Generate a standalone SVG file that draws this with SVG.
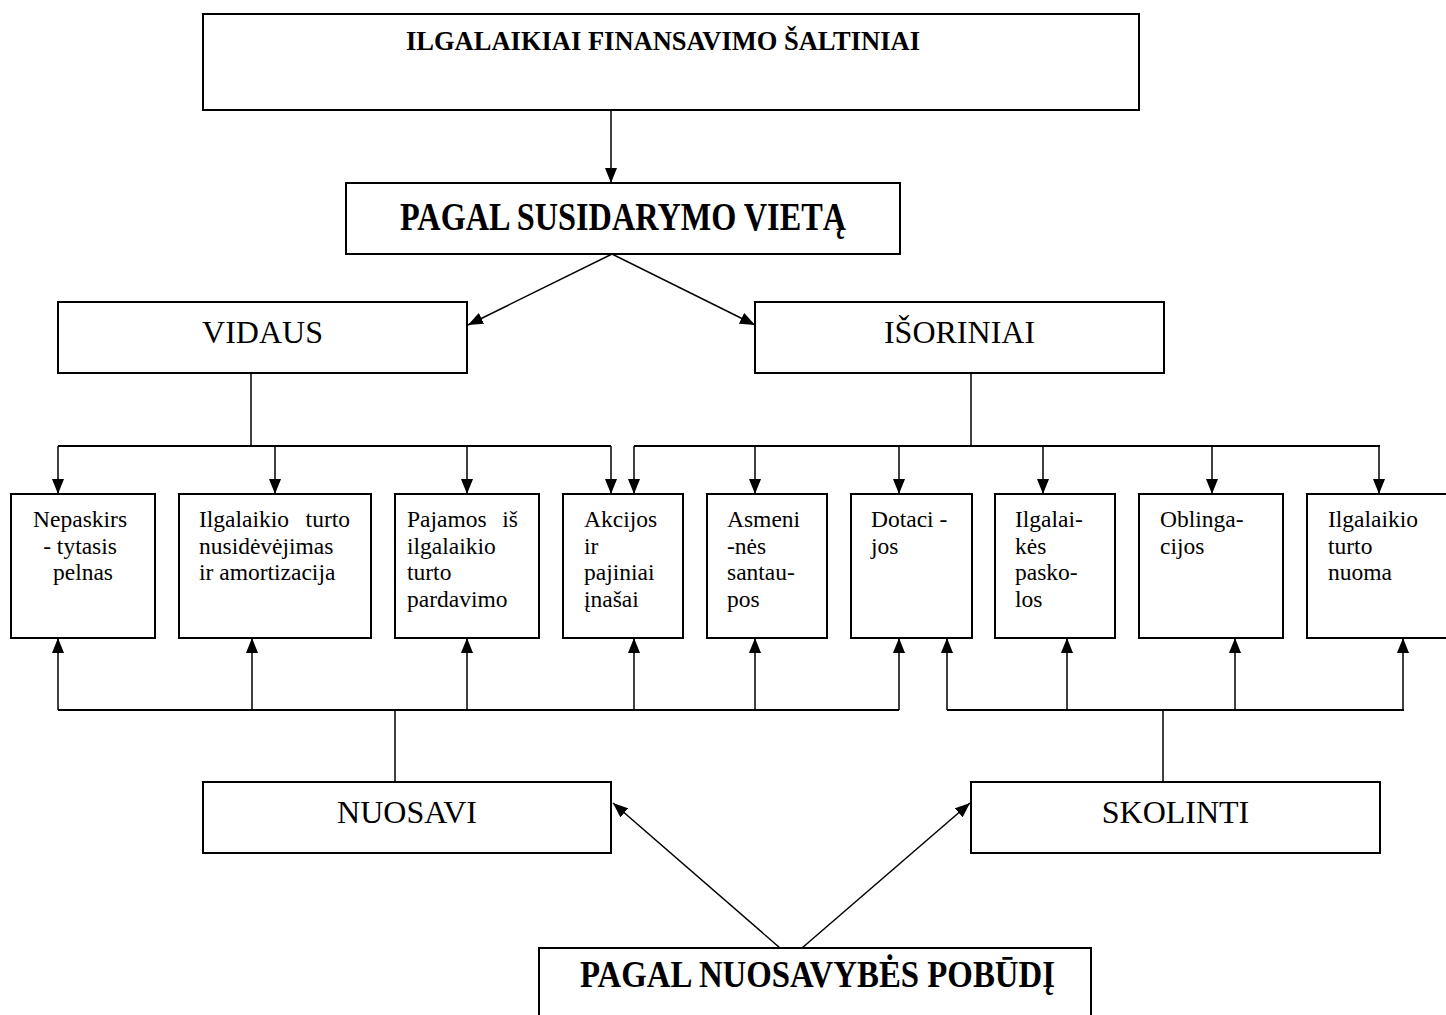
<svg xmlns="http://www.w3.org/2000/svg" width="1446" height="1015" viewBox="0 0 1446 1015">
  <style>
    .box { fill: #ffffff; stroke: #000000; stroke-width: 2; }
    .ln { fill: none; stroke: #000000; stroke-width: 1.5; }
    .bus { fill: none; stroke: #000000; stroke-width: 2.2; }
    .arr { marker-end: url(#tip); }
    .t { font-family: "Liberation Serif", "Times New Roman", serif; fill: #000000; }
    .head { font-size: 26.5px; font-weight: bold; }
    .big { font-size: 40px; font-weight: bold; }
    .mid { font-size: 32px; }
    .sm { font-size: 23.5px; }
  </style>
  <defs>
    <marker id="tip" markerUnits="userSpaceOnUse" markerWidth="15" markerHeight="12" refX="15" refY="6" orient="auto" viewBox="0 0 15 12">
      <path d="M0,0 L15,6 L0,12 Z" fill="#000000"/>
    </marker>
  </defs>

  <rect x="0" y="0" width="1446" height="1015" fill="#ffffff"/>

  <!-- connectors -->
  <g id="connectors">
    <!-- top to classification by place -->
    <line class="ln arr" x1="611" y1="110" x2="611" y2="183"/>
    <!-- split into internal / external -->
    <line class="ln arr" x1="612" y1="254" x2="468" y2="325"/>
    <line class="ln arr" x1="612" y1="254" x2="755" y2="325"/>

    <!-- internal sources bus -->
    <line class="ln" x1="251" y1="373" x2="251" y2="446"/>
    <line class="bus" x1="58" y1="446" x2="611" y2="446"/>
    <line class="ln arr" x1="58" y1="446" x2="58" y2="494"/>
    <line class="ln arr" x1="275" y1="446" x2="275" y2="494"/>
    <line class="ln arr" x1="467" y1="446" x2="467" y2="494"/>
    <line class="ln arr" x1="611" y1="446" x2="611" y2="494"/>

    <!-- external sources bus -->
    <line class="ln" x1="971" y1="373" x2="971" y2="446"/>
    <line class="bus" x1="634" y1="446" x2="1380" y2="446"/>
    <line class="ln arr" x1="634" y1="446" x2="634" y2="494"/>
    <line class="ln arr" x1="755" y1="446" x2="755" y2="494"/>
    <line class="ln arr" x1="899" y1="446" x2="899" y2="494"/>
    <line class="ln arr" x1="1043" y1="446" x2="1043" y2="494"/>
    <line class="ln arr" x1="1212" y1="446" x2="1212" y2="494"/>
    <line class="ln arr" x1="1379" y1="446" x2="1379" y2="494"/>

    <!-- own capital bus -->
    <line class="ln" x1="395" y1="782" x2="395" y2="710"/>
    <line class="bus" x1="58" y1="710" x2="899" y2="710"/>
    <line class="ln arr" x1="58" y1="710" x2="58" y2="638"/>
    <line class="ln arr" x1="252" y1="710" x2="252" y2="638"/>
    <line class="ln arr" x1="467" y1="710" x2="467" y2="638"/>
    <line class="ln arr" x1="634" y1="710" x2="634" y2="638"/>
    <line class="ln arr" x1="755" y1="710" x2="755" y2="638"/>
    <line class="ln arr" x1="899" y1="710" x2="899" y2="638"/>

    <!-- borrowed capital bus -->
    <line class="ln" x1="1163" y1="782" x2="1163" y2="710"/>
    <line class="bus" x1="947" y1="710" x2="1404" y2="710"/>
    <line class="ln arr" x1="947" y1="710" x2="947" y2="638"/>
    <line class="ln arr" x1="1067" y1="710" x2="1067" y2="638"/>
    <line class="ln arr" x1="1235" y1="710" x2="1235" y2="638"/>
    <line class="ln arr" x1="1403" y1="710" x2="1403" y2="638"/>

    <!-- classification by ownership -->
    <line class="ln arr" x1="780" y1="948" x2="613" y2="803"/>
    <line class="ln arr" x1="802" y1="948" x2="970" y2="803"/>
  </g>

  <!-- headline -->
  <g id="n-ilgalaikiai">
    <rect class="box" x="203" y="14" width="936" height="96"/>
    <text class="t head" x="663" y="50" text-anchor="middle">ILGALAIKIAI FINANSAVIMO ŠALTINIAI</text>
  </g>

  <g id="n-pagal-vieta">
    <rect class="box" x="346" y="183" width="554" height="71"/>
    <text class="t big" x="400" y="230" textLength="446" lengthAdjust="spacingAndGlyphs">PAGAL SUSIDARYMO VIETĄ</text>
  </g>

  <g id="n-vidaus">
    <rect class="box" x="58" y="302" width="409" height="71"/>
    <text class="t mid" x="262.5" y="343" text-anchor="middle">VIDAUS</text>
  </g>

  <g id="n-isoriniai">
    <rect class="box" x="755" y="302" width="409" height="71"/>
    <text class="t mid" x="959.5" y="343" text-anchor="middle">IŠORINIAI</text>
  </g>

  <!-- individual sources -->
  <g id="n-nepaskirstytasis">
    <rect class="box" x="11" y="494" width="144" height="144"/>
    <text class="t sm" text-anchor="middle">
      <tspan x="83" y="527">Nepaskirs</tspan>
      <tspan x="83" y="553.5">- tytasis</tspan>
      <tspan x="83" y="580">pelnas</tspan>
    </text>
  </g>

  <g id="n-nusidevejimas">
    <rect class="box" x="179" y="494" width="192" height="144"/>
    <text class="t sm" x="199" y="527">Ilgalaikio</text>
    <text class="t sm" x="350" y="527" text-anchor="end">turto</text>
    <text class="t sm">
      <tspan x="199" y="553.5">nusidėvėjimas</tspan>
      <tspan x="199" y="580">ir amortizacija</tspan>
    </text>
  </g>

  <g id="n-pardavimas">
    <rect class="box" x="395" y="494" width="144" height="144"/>
    <text class="t sm" x="407" y="527">Pajamos</text>
    <text class="t sm" x="518" y="527" text-anchor="end">iš</text>
    <text class="t sm">
      <tspan x="407" y="553.5">ilgalaikio</tspan>
      <tspan x="407" y="580">turto</tspan>
      <tspan x="407" y="606.5">pardavimo</tspan>
    </text>
  </g>

  <g id="n-akcijos">
    <rect class="box" x="563" y="494" width="120" height="144"/>
    <text class="t sm">
      <tspan x="584" y="527">Akcijos</tspan>
      <tspan x="584" y="553.5">ir</tspan>
      <tspan x="584" y="580">pajiniai</tspan>
      <tspan x="584" y="606.5">įnašai</tspan>
    </text>
  </g>

  <g id="n-santaupos">
    <rect class="box" x="707" y="494" width="120" height="144"/>
    <text class="t sm">
      <tspan x="727" y="527">Asmeni</tspan>
      <tspan x="727" y="553.5">-nės</tspan>
      <tspan x="727" y="580">santau-</tspan>
      <tspan x="727" y="606.5">pos</tspan>
    </text>
  </g>

  <g id="n-dotacijos">
    <rect class="box" x="851" y="494" width="121" height="144"/>
    <text class="t sm">
      <tspan x="871" y="527">Dotaci -</tspan>
      <tspan x="871" y="553.5">jos</tspan>
    </text>
  </g>

  <g id="n-paskolos">
    <rect class="box" x="995" y="494" width="120" height="144"/>
    <text class="t sm">
      <tspan x="1015" y="527">Ilgalai-</tspan>
      <tspan x="1015" y="553.5">kės</tspan>
      <tspan x="1015" y="580">pasko-</tspan>
      <tspan x="1015" y="606.5">los</tspan>
    </text>
  </g>

  <g id="n-obligacijos">
    <rect class="box" x="1139" y="494" width="144" height="144"/>
    <text class="t sm">
      <tspan x="1160" y="527">Oblinga-</tspan>
      <tspan x="1160" y="553.5">cijos</tspan>
    </text>
  </g>

  <g id="n-nuoma">
    <rect class="box" x="1307" y="494" width="160" height="144"/>
    <text class="t sm">
      <tspan x="1328" y="527">Ilgalaikio</tspan>
      <tspan x="1328" y="553.5">turto</tspan>
      <tspan x="1328" y="580">nuoma</tspan>
    </text>
  </g>

  <!-- ownership groups -->
  <g id="n-nuosavi">
    <rect class="box" x="203" y="782" width="408" height="71"/>
    <text class="t mid" x="407" y="823" text-anchor="middle">NUOSAVI</text>
  </g>

  <g id="n-skolinti">
    <rect class="box" x="971" y="782" width="409" height="71"/>
    <text class="t mid" x="1175.5" y="823" text-anchor="middle">SKOLINTI</text>
  </g>

  <g id="n-pagal-pobudi">
    <rect class="box" x="539" y="948" width="552" height="90"/>
    <text class="t big" style="font-size:38px" x="580" y="987" textLength="475" lengthAdjust="spacingAndGlyphs">PAGAL NUOSAVYBĖS POBŪDĮ</text>
  </g>
</svg>
